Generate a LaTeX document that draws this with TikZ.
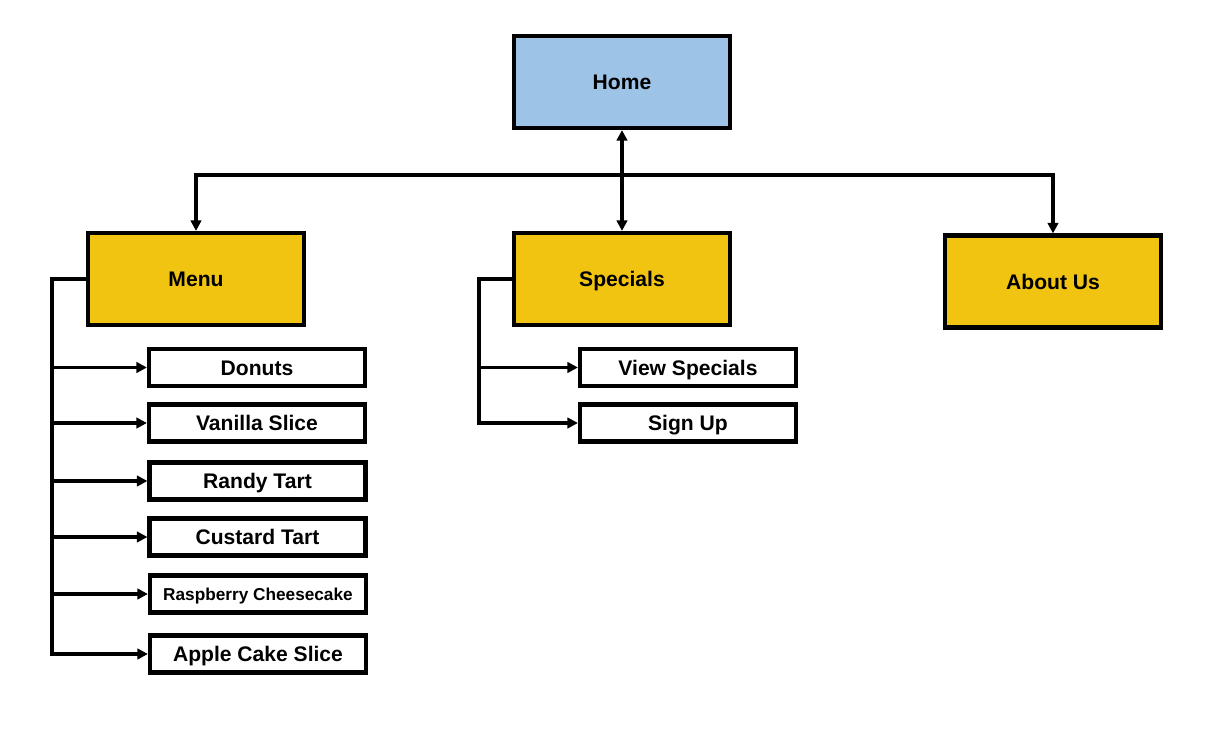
\documentclass[tikz,border=0pt]{standalone}
\usepackage{fontspec}
\setmainfont{Liberation Sans}
\usetikzlibrary{arrows.meta}
\definecolor{homeblue}{HTML}{9DC3E6}
\definecolor{secyellow}{HTML}{F0C410}
\begin{document}
\begin{tikzpicture}[x=0.02cm,y=-0.02cm,
  box/.style={draw=black, line width=2.4pt, inner sep=0pt, align=center,
    text height=8.6pt, text depth=0pt,
    font=\bfseries\fontsize{12}{14}\selectfont},
  bigbox/.style={box, minimum width=4.32cm, minimum height=1.84cm},
  smallbox/.style={box, fill=white, minimum width=4.32cm, minimum height=0.74cm},
  conn/.style={draw=black, line width=1.9pt},
  trunk/.style={conn, line cap=rect},
  arr/.style={conn, -{Triangle[length=6pt,width=6pt]}},
  darr/.style={conn, {Triangle[length=6pt,width=6pt]}-{Triangle[length=6pt,width=6pt]}}
]
\useasboundingbox (0,0) rectangle (1218,740);
\fill[white] (0,0) rectangle (1218,740);

\node[bigbox, fill=homeblue] (home) at (622,82) {Home};
\node[bigbox, fill=secyellow] (menu) at (196,279) {Menu};
\node[bigbox, fill=secyellow] (specials) at (622,279) {Specials};
\node[bigbox, fill=secyellow] (about) at (1053,281.5) {About Us};

\node[smallbox] (donuts) at (257,367.5) {Donuts};
\node[smallbox] (vanilla) at (257,423) {Vanilla Slice};
\node[smallbox] (randy) at (257.5,481) {Randy Tart};
\node[smallbox] (custard) at (257.5,537) {Custard Tart};
\node[smallbox, text height=7pt, font=\bfseries\fontsize{9.8}{12}\selectfont] (rasp) at (258,594) {Raspberry Cheesecake};
\node[smallbox] (apple) at (258,654) {Apple Cake Slice};

\node[smallbox] (view) at (688,367.5) {View Specials};
\node[smallbox] (signup) at (688,423) {Sign Up};

% top level
\coordinate (bus) at (622,175);
\draw[darr] (home.south) -- (specials.north);
\draw[arr] (bus) -| (menu.north);
\draw[arr] (bus) -| (about.north);

% menu tree
\coordinate (mtop) at (52,279);
\coordinate (mbot) at (52,654);
\draw[trunk] (menu.west) -- (mtop) -- (mbot);
\foreach \n in {donuts,vanilla,randy,custard,rasp,apple}
  \draw[arr] (mtop |- \n.west) -- (\n.west);

% specials tree
\coordinate (stop) at (479,279);
\coordinate (sbot) at (479,423);
\draw[trunk] (specials.west) -- (stop) -- (sbot);
\foreach \n in {view,signup}
  \draw[arr] (stop |- \n.west) -- (\n.west);
\end{tikzpicture}
\end{document}
